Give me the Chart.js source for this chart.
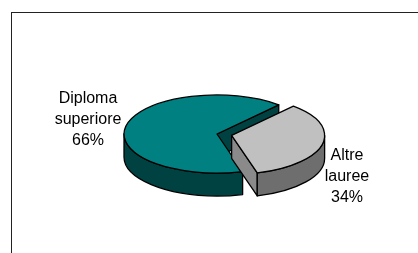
<!DOCTYPE html>
<html>
<head>
<meta charset="utf-8">
<script src="https://cdn.jsdelivr.net/npm/chart.js@4/dist/chart.umd.min.js"></script>
<style>
  body { margin: 0; background: #fff; }
  #wrap { position: relative; width: 418px; height: 253px; overflow: hidden; }
  #frame { position: absolute; left: 11px; top: 12px; width: 500px; height: 300px;
           border: 1.5px solid #222; box-sizing: border-box; }
  #pie { position: absolute; left: 0; top: 0; }
</style>
</head>
<body>
<div id="wrap">
  <div id="frame"></div>
  <canvas id="pie" width="418" height="253"></canvas>
</div>
<script>
// data
const categories = ['Diploma superiore', 'Altre lauree'];
const shares = [66, 34];

// colours: top face, side
const topColors = ['#008080', '#c0c0c0'];
const wallColors = ['#004242', '#6e6e6e'];
const faceColors = ['#004242', '#8a8a8a'];

// fake 3D pie: library computes the angles, we squash and extrude
const pie3d = {
	id: 'pie3d',
	beforeDatasetsDraw(chart, args, opts) {
		const ctx = chart.ctx;
		const meta = chart.getDatasetMeta(0);
		const tilt = opts.tilt, depth = opts.depth;

		function outline(fill) {
			ctx.fillStyle = fill;
			ctx.fill();
			ctx.lineWidth = 1.3;
			ctx.strokeStyle = '#000';
			ctx.lineJoin = 'round';
			ctx.stroke();
		}

		meta.data.forEach(function(arc, i) {
			const p = arc.getProps(['x', 'y', 'startAngle', 'endAngle', 'outerRadius'], true);
			const mid = (p.startAngle + p.endAngle) / 2;
			const ex = opts.explode[i] || 0;
			const cx = p.x + Math.cos(mid) * ex;
			const cy = p.y + Math.sin(mid) * ex * tilt;
			const rx = p.outerRadius, ry = p.outerRadius * tilt;
			const a = p.startAngle, b = p.endAngle;

			function face(t) {
				ctx.beginPath();
				ctx.moveTo(cx, cy);
				ctx.lineTo(cx + rx * Math.cos(t), cy + ry * Math.sin(t));
				ctx.lineTo(cx + rx * Math.cos(t), cy + ry * Math.sin(t) + depth);
				ctx.lineTo(cx, cy + depth);
				ctx.closePath();
				outline(faceColors[i]);
			}

			// radial cut faces that look at us
			if (Math.cos(a) < 0) face(a);
			if (Math.cos(b) > 0) face(b);

			// outer wall, only the front half (sin > 0)
			const TAU = Math.PI * 2;
			for (let k = Math.floor(a / TAU) - 1; k <= Math.floor(b / TAU) + 1; k++) {
				const s = Math.max(a, k * TAU), e = Math.min(b, k * TAU + Math.PI);
				if (e <= s) continue;
				ctx.beginPath();
				ctx.ellipse(cx, cy, rx, ry, 0, s, e);
				ctx.lineTo(cx + rx * Math.cos(e), cy + ry * Math.sin(e) + depth);
				ctx.ellipse(cx, cy + depth, rx, ry, 0, e, s, true);
				ctx.closePath();
				outline(wallColors[i]);
			}

			// top face
			ctx.beginPath();
			ctx.moveTo(cx, cy);
			ctx.ellipse(cx, cy, rx, ry, 0, a, b);
			ctx.closePath();
			outline(topColors[i]);
		});
		return false;
	},
	afterDraw(chart, args, opts) {
		const ctx = chart.ctx;
		const total = shares.reduce(function(s, v) { return s + v; }, 0);
		ctx.save();
		ctx.font = '16px "Liberation Sans", Arial, sans-serif';
		ctx.fillStyle = '#000';
		ctx.textAlign = 'center';
		ctx.textBaseline = 'alphabetic';
		categories.forEach(function(name, i) {
			const lines = name.split(' ').concat([Math.round(shares[i] / total * 100) + '%']);
			const pos = opts.labelPos[i];
			lines.forEach(function(txt, j) {
				ctx.fillText(txt, pos[0], pos[1] + j * 21);
			});
		});
		ctx.restore();
	}
};

new Chart(document.getElementById('pie'), {
	type: 'pie',
	data: {
		labels: categories,
		datasets: [{
			data: shares,
			backgroundColor: topColors,
			borderWidth: 0
		}]
	},
	options: {
		responsive: false,
		animation: false,
		rotation: 164,
		radius: 93,
		layout: { padding: { left: 16, top: 15, right: 0, bottom: 0 } },
		plugins: {
			legend: { display: false },
			tooltip: { enabled: false },
			pie3d: {
				tilt: 0.42,
				depth: 23,
				explode: [0, 15],
				labelPos: [[88, 103], [347, 160]]
			}
		}
	},
	plugins: [pie3d]
});
</script>
</body>
</html>
